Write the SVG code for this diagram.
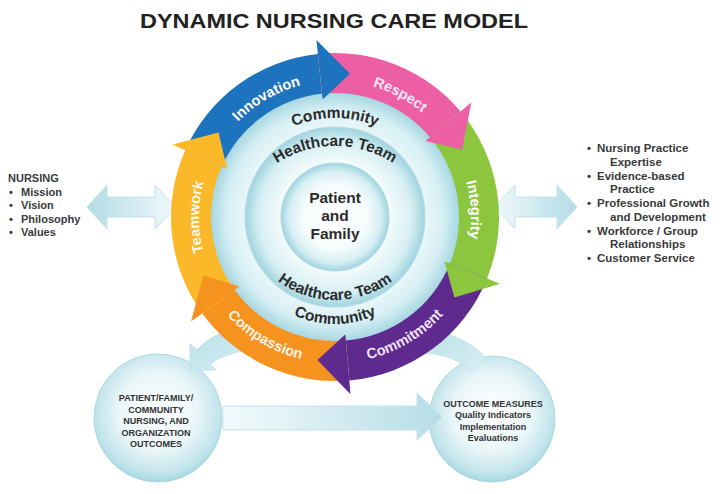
<svg xmlns="http://www.w3.org/2000/svg" width="720" height="494" viewBox="0 0 720 494">
<defs>
<style>
text{font-family:"Liberation Sans",Arial,"Noto Sans",sans-serif;font-weight:bold}
.side{font-size:11px;fill:#3a3a3a}
.rside{font-size:11.5px;fill:#3a3a3a}
.small{font-size:9px;fill:#333;text-anchor:middle}
.ctr{font-size:15.5px;fill:#2b2b2b;text-anchor:middle}
.lbl{font-size:14.5px;fill:#fff;text-anchor:middle}
.disc{stroke:#b3dce4;stroke-width:1.2}
.pale{stroke:#c3e3ea;stroke-width:1}
</style>
<radialGradient id="gDisc" cx="50%" cy="50%" r="50%">
<stop offset="0" stop-color="#ffffff"/>
<stop offset="0.6" stop-color="#f5fbfc"/>
<stop offset="0.85" stop-color="#d6eff4"/>
<stop offset="1" stop-color="#9fd3de"/>
</radialGradient>
<radialGradient id="gBall" cx="50%" cy="45%" r="55%">
<stop offset="0" stop-color="#ffffff"/>
<stop offset="0.55" stop-color="#eaf6f9"/>
<stop offset="0.9" stop-color="#bfe3ea"/>
<stop offset="1" stop-color="#a5d6e0"/>
</radialGradient>
<linearGradient id="gLeftArr" x1="0" y1="0" x2="1" y2="0">
<stop offset="0" stop-color="#b3dce5"/>
<stop offset="1" stop-color="#eff9fb"/>
</linearGradient>
<linearGradient id="gRightArr" x1="0" y1="0" x2="1" y2="0">
<stop offset="0" stop-color="#eff9fb"/>
<stop offset="1" stop-color="#b3dce5"/>
</linearGradient>
<linearGradient id="gHoriz" x1="0" y1="0" x2="1" y2="0">
<stop offset="0" stop-color="#f3fafc"/>
<stop offset="1" stop-color="#b5dde6"/>
</linearGradient>
<linearGradient id="gCurve" x1="0" y1="0" x2="1" y2="1">
<stop offset="0" stop-color="#b8dfe7"/>
<stop offset="1" stop-color="#d8eff4"/>
</linearGradient>
<path id="pInnov" d="M201.1,193.4 A136,136 0 0 1 381.5,89.2"/>
<path id="pResp" d="M284.1,90.9 A136,136 0 0 1 468.0,188.7"/>
<path id="pInteg" d="M416.8,108.4 A136,136 0 0 1 427.8,316.5"/>
<path id="pTeam" d="M247.6,321.2 A136,136 0 0 1 247.6,112.8"/>
<path id="pCommit" d="M286.3,354.6 A146,146 0 0 0 479.0,241.1"/>
<path id="pCompa" d="M191.0,241.1 A146,146 0 0 0 383.7,354.6"/>
<path id="pCommTop" d="M242.3,171.5 A107,107 0 0 1 427.7,171.5"/>
<path id="pHTTop" d="M243.2,199 A106,106 0 0 1 426.8,199"/>
<path id="pHTBot" d="M252.7,252.5 A95,95 0 0 0 417.3,252.5"/>
<path id="pCommBot" d="M248.4,274 A100,100 0 0 0 421.6,274"/>
</defs>

<rect width="720" height="494" fill="#ffffff"/>

<text id="title" x="334" y="28" font-size="19.5" fill="#222" text-anchor="middle" textLength="388" lengthAdjust="spacingAndGlyphs">DYNAMIC NURSING CARE MODEL</text>

<g id="connectors">
<path id="arrow-left" class="pale" fill="url(#gLeftArr)" d="M87,207 L107,185 L107,197 L155,197 L155,185 L176,207 L155,229 L155,217 L107,217 L107,229 Z"/>
<path id="arrow-right" class="pale" fill="url(#gRightArr)" d="M494,207 L515,185 L515,197 L557,197 L557,185 L577,207 L557,229 L557,217 L515,217 L515,229 Z"/>
</g>

<g id="node-outcomes-left">
<circle cx="158" cy="418" r="64" fill="url(#gBall)" stroke="#a9d7e1" stroke-width="1"/>
<text class="small" x="156" y="401">PATIENT/FAMILY/</text>
<text class="small" x="156" y="412.5">COMMUNITY</text>
<text class="small" x="156" y="424">NURSING, AND</text>
<text class="small" x="156" y="435.5">ORGANIZATION</text>
<text class="small" x="156" y="447">OUTCOMES</text>
</g>

<g id="node-outcome-measures">
<circle cx="492" cy="419" r="63" fill="url(#gBall)" stroke="#a9d7e1" stroke-width="1"/>
<text class="small" x="493" y="406.5">OUTCOME MEASURES</text>
<text class="small" x="493" y="418">Quality Indicators</text>
<text class="small" x="493" y="429.5">Implementation</text>
<text class="small" x="493" y="441">Evaluations</text>
</g>

<g id="connectors-bottom">
<path id="arrow-horizontal" class="pale" fill="url(#gHoriz)" d="M223,406 L417,406 L417,393 L442,417 L417,440 L417,430 L223,430 Z"/>
<path id="arrow-to-left" class="pale" fill="url(#gCurve)" d="M272,328 Q222,322 197,350 L190,344 L190,370 L216,370 L210,364 Q233,347 272,351 Z"/>
<path id="arrow-to-right" class="pale" fill="url(#gCurve)" d="M415,330 Q460,330 486,358 L471,371 Q452,352 418,353 Z"/>
</g>

<g id="node-community">
<circle cx="335" cy="217" r="127" fill="url(#gDisc)"/>
<text class="ctr"><textPath href="#pCommTop" startOffset="50%">Community</textPath></text>
<text class="ctr"><textPath href="#pCommBot" startOffset="50%">Community</textPath></text>
</g>
<g id="node-healthcare-team">
<circle class="disc" cx="335" cy="217" r="90" fill="url(#gDisc)"/>
<text class="ctr"><textPath href="#pHTTop" startOffset="50%">Healthcare Team</textPath></text>
<text class="ctr"><textPath href="#pHTBot" startOffset="50%">Healthcare Team</textPath></text>
</g>
<g id="node-patient-family">
<circle class="disc" cx="335" cy="217" r="54" fill="url(#gDisc)"/>
<text class="ctr" x="335" y="203">Patient</text>
<text class="ctr" x="335" y="221">and</text>
<text class="ctr" x="335" y="239">Family</text>
</g>

<g id="ring">
<g id="node-innovation">
<path fill="#1e73be" d="M185.2,150.3 A164,164 0 0 1 317.9,53.9 L322.0,93.7 A124,124 0 0 0 221.7,166.6 Z"/>
</g>
<g id="node-respect">
<path fill="#ec5fa5" d="M317.9,53.9 A164,164 0 0 1 460.6,111.6 L430.0,137.3 A124,124 0 0 0 322.0,93.7 Z"/>
</g>
<g id="node-integrity">
<path fill="#8cc63e" d="M460.6,111.6 A164,164 0 0 1 487.1,278.4 L450.0,263.5 A124,124 0 0 0 430.0,137.3 Z"/>
</g>
<g id="node-commitment">
<path fill="#5e2a8e" d="M487.1,278.4 A164,164 0 0 1 349.3,380.4 L345.8,340.5 A124,124 0 0 0 450.0,263.5 Z"/>
</g>
<g id="node-compassion">
<path fill="#f6921e" d="M349.3,380.4 A164,164 0 0 1 202.3,313.4 L234.7,289.9 A124,124 0 0 0 345.8,340.5 Z"/>
</g>
<g id="node-teamwork">
<path fill="#fbb829" d="M202.3,313.4 A164,164 0 0 1 185.2,150.3 L221.7,166.6 A124,124 0 0 0 234.7,289.9 Z"/>
</g>
<g id="ring-heads">
<path fill="#1e73be" d="M316.4,40.0 L350.0,73.8 L322.7,99.6 Z"/>
<path fill="#ec5fa5" d="M471.3,102.6 L462.1,149.4 L425.4,141.1 Z"/>
<path fill="#8cc63e" d="M500.0,283.7 L454.4,297.5 L444.4,261.2 Z"/>
<path fill="#5e2a8e" d="M350.5,394.3 L317.4,359.9 L345.3,334.6 Z"/>
<path fill="#f6921e" d="M191.0,321.6 L203.5,275.6 L239.5,286.4 Z"/>
<path fill="#fbb829" d="M172.4,144.6 L218.5,132.4 L227.2,169.0 Z"/>
</g>
<text class="lbl" fill="#eef4fb"><textPath href="#pInnov" startOffset="50%">Innovation</textPath></text>
<text class="lbl" style="fill:#fde6f1"><textPath href="#pResp" startOffset="50%">Respect</textPath></text>
<text class="lbl"><textPath href="#pInteg" startOffset="50%">Integrity</textPath></text>
<text class="lbl" style="fill:#efe4fa"><textPath href="#pCommit" startOffset="50%">Commitment</textPath></text>
<text class="lbl" style="fill:#fff3e6"><textPath href="#pCompa" startOffset="50%">Compassion</textPath></text>
<text class="lbl" style="fill:#fff8ea"><textPath href="#pTeam" startOffset="50%">Teamwork</textPath></text>
</g>

<g id="node-nursing">
<text class="side" x="8" y="182">NURSING</text>
<text class="side" x="9" y="195.5">•</text><text class="side" x="21" y="195.5">Mission</text>
<text class="side" x="9" y="209">•</text><text class="side" x="21" y="209">Vision</text>
<text class="side" x="9" y="222.5">•</text><text class="side" x="21" y="222.5">Philosophy</text>
<text class="side" x="9" y="236">•</text><text class="side" x="21" y="236">Values</text>
</g>

<g id="node-practice">
<text class="rside" x="587" y="152">•</text><text class="rside" x="597" y="152">Nursing Practice</text>
<text class="rside" x="610" y="165.5">Expertise</text>
<text class="rside" x="587" y="179.5">•</text><text class="rside" x="597" y="179.5">Evidence-based</text>
<text class="rside" x="610" y="193">Practice</text>
<text class="rside" x="587" y="207">•</text><text class="rside" x="597" y="207">Professional Growth</text>
<text class="rside" x="610" y="220.5">and Development</text>
<text class="rside" x="587" y="234.5">•</text><text class="rside" x="597" y="234.5">Workforce / Group</text>
<text class="rside" x="610" y="248">Relationships</text>
<text class="rside" x="587" y="262">•</text><text class="rside" x="597" y="262">Customer Service</text>
</g>
</svg>
